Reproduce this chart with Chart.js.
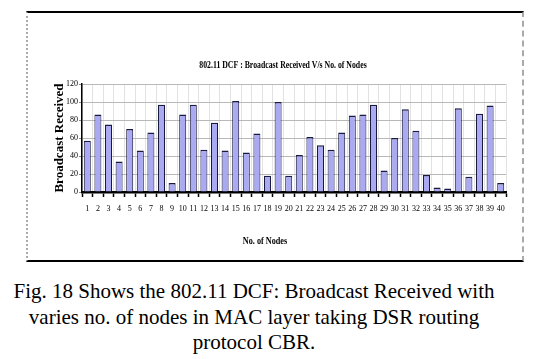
<!DOCTYPE html>
<html><head><meta charset="utf-8">
<script src="https://cdn.jsdelivr.net/npm/chart.js@4/dist/chart.umd.min.js"></script>
<style>
html,body{margin:0;padding:0;background:#fff;width:539px;height:359px;overflow:hidden}
#wrap{position:absolute;left:0;top:0;width:539px;height:270px}
#frame{position:absolute;left:26px;top:11px;width:498px;height:251px;border-top:2px solid #000;border-bottom:2px solid #000;border-left:2px dotted #aaa;border-right:2px dashed #aaa;box-sizing:border-box;pointer-events:none}
#cap{position:absolute;left:0;top:279px;width:508px;text-align:center;font-family:'Liberation Serif','Times New Roman',serif;font-size:21px;line-height:25.5px;color:#000}
</style></head><body>
<div id="wrap"><canvas id="c" width="539" height="270"></canvas></div>
<div id="frame"></div>
<div id="cap">Fig. 18 Shows the 802.11 DCF: Broadcast Received with<br>varies no. of nodes in MAC layer taking DSR routing<br>protocol CBR.</div>
<script>
const nodes = ["1","2","3","4","5","6","7","8","9","10","11","12","13","14","15","16","17","18","19","20","21","22","23","24","25","26","27","28","29","30","31","32","33","34","35","36","37","38","39","40"];
const broadcastReceived = [57,86,75,34,70,46,66,97,10,86,97,47,77,46,101,44,65,18,100,18,41,61,52,47,66,85,86,97,24,60,92,68,19,5,4,93,17,87,96,10];
const yTicks = [0,20,40,60,80,100,120];
const titleText = "802.11 DCF : Broadcast Received V/s No. of Nodes";
const xTitle = "No. of Nodes";
const yTitle = "Broadcast Received";
const serif = "'Liberation Serif', 'Times New Roman', serif";

// draws the condensed chart title and x-axis title text
const condensedTitles = {
  id: 'condensedTitles',
  afterDraw(chart) {
    const ctx = chart.ctx;
    const draw = (txt, cx, cy, size, sx) => {
      ctx.save();
      ctx.font = 'bold ' + size + 'px ' + serif;
      ctx.fillStyle = '#000';
      ctx.textAlign = 'center';
      ctx.textBaseline = 'middle';
      ctx.translate(cx, cy);
      ctx.scale(sx, 1);
      ctx.fillText(txt, 0, 0);
      ctx.restore();
    };
    draw(titleText, 283, 65, 10.5, 0.74);
    draw(xTitle, 265, 241, 10.5, 0.78);
  }
};

new Chart(document.getElementById('c'), {
  type: 'bar',
  data: { labels: nodes, datasets: [{ data: broadcastReceived, backgroundColor: '#a9aaf2', borderColor: '#1a1a40', borderWidth: {top:1.5,left:1,right:1,bottom:0}, borderSkipped: 'bottom', barPercentage: 0.66, categoryPercentage: 1.0 }] },
  plugins: [condensedTitles],
  options: {
    responsive: false, animation: false, devicePixelRatio: 1,
    layout: { padding: { left: 0, right: 33, top: 84, bottom: 15 } },
    plugins: {
      legend: { display: false }, tooltip: { enabled: false },
      title: { display: false }
    },
    scales: {
      x: {
        grid: { display: true, color: '#e2e2e2', lineWidth: 1, offset: true, drawTicks: true, tickColor: '#000', tickLength: 5, tickWidth: 1.5 },
        border: { display: true, color: '#000', width: 2.5 },
        ticks: { color: '#000', font: { family: serif, size: 8 }, maxRotation: 0, autoSkip: false, padding: 7 },
        title: { display: false },
        afterFit(s) { s.height = 63; }
      },
      y: {
        min: 0, max: 120,
        grid: { color: '#b8b8b8', lineWidth: 1, drawTicks: true, tickLength: 3, tickColor: '#888' },
        border: { display: true, color: '#000', width: 1.5 },
        ticks: { stepSize: 10, color: '#000', font: { family: serif, size: 8 }, padding: 1, callback: v => yTicks.includes(v) ? String(v) : '' },
        title: { display: true, text: yTitle, color: '#000', font: { family: serif, size: 13, weight: 'bold' }, padding: { top: 52, bottom: 0 } },
        afterFit(s) { s.width = 82; }
      }
    }
  }
});
</script>
</body></html>
